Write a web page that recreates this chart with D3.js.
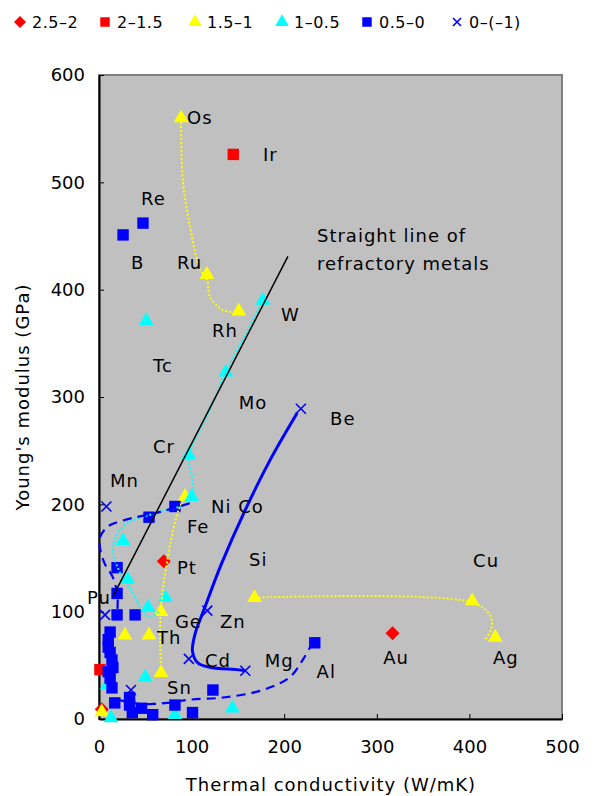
<!DOCTYPE html>
<html>
<head>
<meta charset="utf-8">
<script src="https://cdn.jsdelivr.net/npm/d3@7"></script>
<style>
  body { margin: 0; background: #fff; }
  text { font-family: "DejaVu Sans", "Liberation Sans", sans-serif; }
</style>
</head>
<body>
<div id="chart"></div>
<script>
// series values [thermal conductivity, Young's modulus]
const diamond25 = [[70, 147], [317, 80], [3, 9]];
const square20 = [[145, 526], [1, 46]];
const tri15 = [[88.6, 560], [116.6, 414], [151, 380], [93, 207], [67, 100], [67, 43],
  [54, 78], [28, 78], [3, 6.5], [168, 113], [403, 110], [428, 76]];
const tri10 = [[177, 390], [137, 323], [97, 246], [100, 207], [51, 371], [26, 166],
  [31, 130], [72, 113], [53, 104], [50, 39], [9, 32], [13, 1], [82, 4], [144, 10]];
const square05 = [[47.5, 462], [26, 451], [82, 198], [54, 188], [19.5, 141], [19.5, 117],
  [19.5, 97], [39, 97], [12, 81], [10, 74], [10, 67], [12, 62], [14, 55], [15, 48],
  [10, 44], [12, 38], [14, 29], [17, 15], [33, 20], [33, 13], [36, 6], [46, 10],
  [58, 4], [82, 13], [101, 6], [123, 27], [233, 71]];
const cross00 = [[218, 289], [117, 101], [97, 56], [158, 45], [8, 198], [6.5, 97], [34.5, 27]];

// guide curves
const yellowCurve1 = [[88.6, 556], [90.7, 500], [98, 460], [109, 419], [116.6, 409], [120, 393], [134, 381], [149, 379]];
const yellowCurve2 = [[94, 207], [86, 195], [67, 105], [67, 46]];
const yellowCurve3 = [[168, 113], [401, 109], [422, 97], [424, 85], [417, 74]];
const cyanCurve = [[177, 390], [158, 358], [137, 323], [115, 279], [97, 246], [101, 223], [101, 207],
  [90, 199], [66, 193], [28, 181], [17, 167], [15, 156], [25, 132], [37, 117], [47, 100], [57, 95], [64, 100]];
const blueSolid = [[214, 285], [184, 240], [157, 193], [132, 144], [113, 101], [104, 80], [101, 63],
  [107, 52], [121, 48], [149, 46], [158, 45]];
const blueDash1 = [[98, 201], [66, 193], [26, 185], [9, 179], [1, 169], [1, 160], [6, 145], [15, 132], [20, 114], [19, 92]];
const blueDash2 = [[20, 18], [44, 14], [58, 14], [74, 15], [98, 18], [134, 20], [177, 27], [206, 39], [220, 55], [228, 67]];
const refractoryLine = [[15, 114], [204, 431]];

const elementLabels = [
  ["Os", 95, 554], ["Ir", 177, 520], ["Re", 45.4, 479], ["B", 34.6, 419], ["Ru", 84.2, 419],
  ["Rh", 122, 356], ["W", 196.5, 371], ["Tc", 58.3, 323], ["Mo", 151, 289], ["Be", 249.5, 274],
  ["Cr", 58.3, 248], ["Mn", 11.9, 216], ["Ni Co", 121, 192], ["Fe", 95, 173], ["Si", 162, 143],
  ["Cu", 404, 142], ["Pt", 84.2, 135], ["Pu", -13, 107], ["Ge", 82, 85], ["Zn", 130.6, 85],
  ["Th", 62.6, 70], ["Cd", 114.4, 48], ["Mg", 179, 48], ["Al", 235, 38], ["Au", 307, 51],
  ["Ag", 425.5, 51], ["Sn", 73.4, 23],
  ["Straight line of", 235.4, 444], ["refractory metals", 235.4, 418]
];

const legendNames = ["2.5\u20132", "2\u20131.5", "1.5\u20131", "1\u20130.5", "0.5\u20130", "0\u2013(\u20131)"];
const xTicks = [0, 100, 200, 300, 400, 500];
const yTicks = [0, 100, 200, 300, 400, 500, 600];

var width = 600, height = 796;
var margins = { top: 75, bottom: 77, left: 99, right: 38 };

var svg = d3.select("#chart").append("svg")
  .attr("width", width)
  .attr("height", height);

const x = d3.scaleLinear().domain([0, 500]).range([margins.left, width - margins.right]);
const y = d3.scaleLinear().domain([0, 600]).range([height - margins.bottom, margins.top]);

// plot background
svg.append("rect")
  .attr("x", x(0)).attr("y", y(600))
  .attr("width", x(500) - x(0)).attr("height", y(0) - y(600))
  .attr("fill", "#c0c0c0")
  .attr("stroke", "#808080").attr("stroke-width", 2);

// axes
const fs = 18;
svg.append("g")
  .attr("transform", `translate(0, ${y(0)})`)
  .call(d3.axisBottom(x).tickValues(xTicks).tickSizeInner(-5).tickSizeOuter(0).tickPadding(21))
  .call(g => g.select(".domain").attr("stroke-width", 2))
  .call(g => g.selectAll("text").attr("font-size", fs).attr("fill", "#000"));
svg.append("g")
  .attr("transform", `translate(${x(0)}, 0)`)
  .call(d3.axisLeft(y).tickValues(yTicks).tickSizeInner(-5).tickSizeOuter(0).tickPadding(14))
  .call(g => g.select(".domain").attr("stroke-width", 2))
  .call(g => g.selectAll("text").attr("font-size", fs).attr("fill", "#000"));
svg.selectAll(".tick line").attr("stroke", "#000");
svg.selectAll(".tick text").attr("font-family", "DejaVu Sans");

svg.append("text")
  .attr("x", 331).attr("y", 791)
  .attr("text-anchor", "middle").attr("font-size", fs)
  .attr("letter-spacing", 1)
  .text("Thermal conductivity (W/mK)");
svg.append("text")
  .attr("transform", `translate(29, ${(y(0) + y(600)) / 2}) rotate(-90)`)
  .attr("text-anchor", "middle").attr("font-size", fs)
  .attr("letter-spacing", 1)
  .text("Young's modulus (GPa)");

// markers
const sym = {
  diamond: () => "M0,-7L7,0L0,7L-7,0Z",
  square: d3.symbol().type(d3.symbolSquare).size(130),
  triangle: d3.symbol().type(d3.symbolTriangle).size(95)
};
function drawMarkers(data, type, color) {
  if (type === "cross") {
    svg.append("g").selectAll("path").data(data).enter().append("path")
      .attr("transform", d => `translate(${x(d[0])}, ${y(d[1])})`)
      .attr("d", "M-5,-5L5,5M-5,5L5,-5")
      .attr("stroke", color).attr("stroke-width", 1.6).attr("fill", "none");
    return;
  }
  svg.append("g").selectAll("path").data(data).enter().append("path")
    .attr("transform", d => `translate(${x(d[0])}, ${y(d[1])})`)
    .attr("d", sym[type]())
    .attr("fill", color);
}
drawMarkers(diamond25, "diamond", "#ff0000");
drawMarkers(square20, "square", "#ff0000");
drawMarkers(tri15, "triangle", "#ffff00");
drawMarkers(tri10, "triangle", "#00ffff");
drawMarkers(square05, "square", "#0000ff");
drawMarkers(cross00, "cross", "#0000ff");

// curves
const smooth = d3.line().x(d => x(d[0])).y(d => y(d[1])).curve(d3.curveCatmullRom.alpha(0.5));
function drawCurve(data, color, w, dash) {
  svg.append("path").datum(data)
    .attr("d", smooth)
    .attr("fill", "none")
    .attr("stroke", color)
    .attr("stroke-width", w)
    .attr("stroke-dasharray", dash);
}
drawCurve(yellowCurve1, "#ffff00", 2, "2,2");
drawCurve(yellowCurve2, "#ffff00", 2, "2,2");
drawCurve(yellowCurve3, "#ffff00", 2, "2,2");
drawCurve(cyanCurve, "#00ffff", 2, "2,2");
drawCurve(blueDash1, "#0000ff", 2.2, "9,6");
drawCurve(blueDash2, "#0000ff", 2.2, "9,6");
drawCurve(blueSolid, "#0000ff", 3, null);
drawCurve(refractoryLine, "#000", 1.5, null);

// element labels
svg.append("g").selectAll("text").data(elementLabels).enter().append("text")
  .attr("x", d => x(d[1])).attr("y", d => y(d[2]))
  .attr("font-size", fs)
  .attr("letter-spacing", 1)
  .text(d => d[0]);

// legend
const legendX = [20, 105, 195, 282, 367, 457];
const legendType = ["diamond", "square", "triangle", "triangle", "square", "cross"];
const legendColor = ["#ff0000", "#ff0000", "#ffff00", "#00ffff", "#0000ff", "#0000ff"];
const legend = svg.append("g").selectAll("g").data(legendNames).enter().append("g")
  .attr("transform", (d, i) => `translate(${legendX[i]}, 22)`);
legend.append("path")
  .attr("d", (d, i) => {
    if (legendType[i] === "cross") return "M-4,-4L4,4M-4,4L4,-4";
    if (legendType[i] === "diamond") return "M0,-6L6,0L0,6L-6,0Z";
    return sym[legendType[i]].size(legendType[i] === "square" ? 90 : 80)();
  })
  .attr("fill", (d, i) => legendType[i] === "cross" ? "none" : legendColor[i])
  .attr("stroke", (d, i) => legendType[i] === "cross" ? legendColor[i] : "none")
  .attr("stroke-width", 1.6);
legend.append("text")
  .attr("x", 12).attr("y", 6)
  .attr("font-size", 16)
  .attr("letter-spacing", 0.5)
  .text(d => d);
</script>
</body>
</html>
